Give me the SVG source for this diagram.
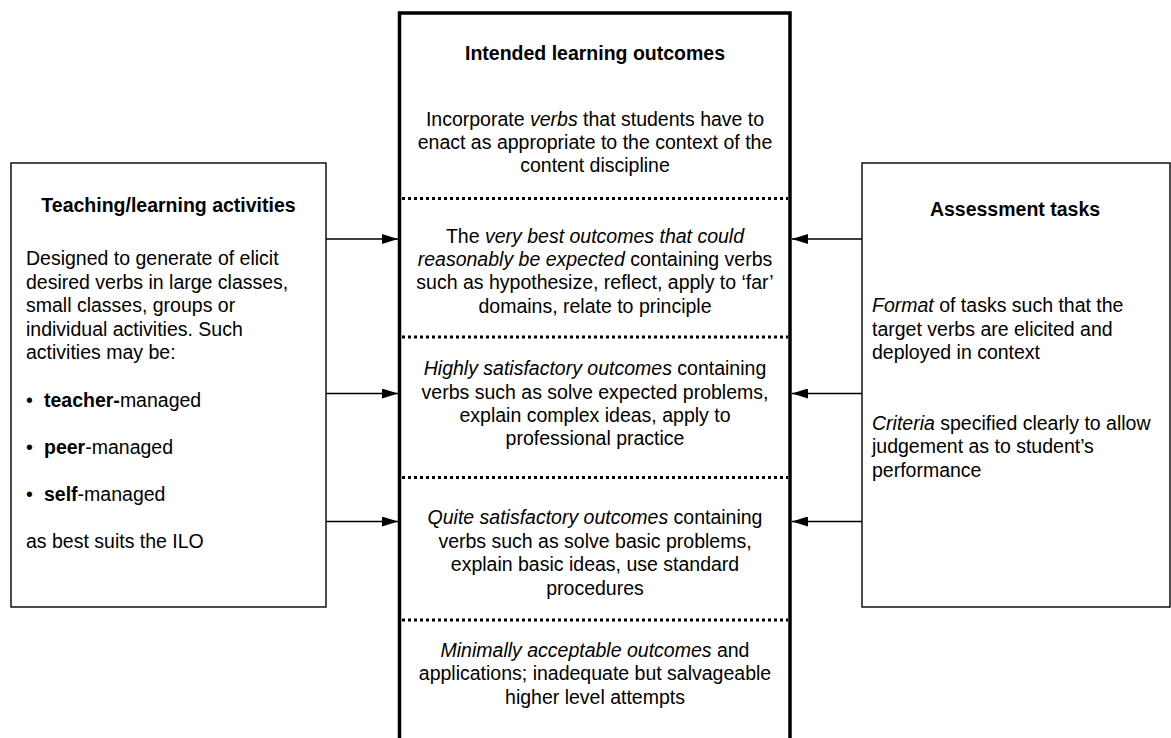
<svg xmlns="http://www.w3.org/2000/svg" width="1171" height="738" viewBox="0 0 1171 738">
<style>
text{font-family:"Liberation Sans",Arial,sans-serif;font-size:19.5px;fill:#000}
.b{font-weight:bold}
.i{font-style:italic}
.c{text-anchor:middle}
.box{fill:#fff;stroke:#000;stroke-width:1.4}
.main{fill:#fff;stroke:#000;stroke-width:3.5}
.dot{stroke:#000;stroke-width:3;stroke-dasharray:3 3;fill:none}
.con{stroke:#000;stroke-width:1.4;fill:none}
</style>
<defs>
<marker id="ah" viewBox="0 0 16 10" refX="16" refY="5" markerWidth="16" markerHeight="10" markerUnits="userSpaceOnUse" orient="auto">
<path d="M0,0 L16,5 L0,10 Z" fill="#000"/>
</marker>
</defs>
<g id="tla">
<rect class="box" x="11" y="163" width="315" height="444"/>
<text class="b c" x="168.5" y="212">Teaching/learning activities</text>
<text x="26" y="265">Designed to generate of elicit</text>
<text x="26" y="288.5">desired verbs in large classes,</text>
<text x="26" y="312">small classes, groups or</text>
<text x="26" y="335.5">individual activities. Such</text>
<text x="26" y="359">activities may be:</text>
<text x="26" y="407">•</text><text x="44" y="407"><tspan class="b">teacher-</tspan>managed</text>
<text x="26" y="454">•</text><text x="44" y="454"><tspan class="b">peer</tspan>-managed</text>
<text x="26" y="501">•</text><text x="44" y="501"><tspan class="b">self</tspan>-managed</text>
<text x="26" y="548">as best suits the ILO</text>
</g>
<g id="ilo">
<rect class="main" x="399.5" y="13" width="390.5" height="740"/>
<text class="b c" x="595" y="60">Intended learning outcomes</text>
<text class="c" x="595" y="126">Incorporate <tspan class="i">verbs</tspan> that students have to</text>
<text class="c" x="595" y="149">enact as appropriate to the context of the</text>
<text class="c" x="595" y="172">content discipline</text>
<line class="dot" x1="402" y1="198.5" x2="788" y2="198.5"/>
<text class="c" x="595" y="242.5">The <tspan class="i">very best outcomes that could</tspan></text>
<text class="c" x="595" y="265.5"><tspan class="i">reasonably be expected</tspan> containing verbs</text>
<text class="c" x="595" y="289">such as hypothesize, reflect, apply to ‘far’</text>
<text class="c" x="595" y="312.5">domains, relate to principle</text>
<line class="dot" x1="402" y1="337" x2="788" y2="337"/>
<text class="c" x="595" y="375"><tspan class="i">Highly satisfactory outcomes</tspan> containing</text>
<text class="c" x="595" y="398.5">verbs such as solve expected problems,</text>
<text class="c" x="595" y="422">explain complex ideas, apply to</text>
<text class="c" x="595" y="445">professional practice</text>
<line class="dot" x1="402" y1="477.5" x2="788" y2="477.5"/>
<text class="c" x="595" y="524"><tspan class="i">Quite satisfactory outcomes</tspan> containing</text>
<text class="c" x="595" y="547.5">verbs such as solve basic problems,</text>
<text class="c" x="595" y="571">explain basic ideas, use standard</text>
<text class="c" x="595" y="594.5">procedures</text>
<line class="dot" x1="402" y1="620" x2="788" y2="620"/>
<text class="c" x="595" y="657"><tspan class="i">Minimally acceptable outcomes</tspan> and</text>
<text class="c" x="595" y="680">applications; inadequate but salvageable</text>
<text class="c" x="595" y="703.5">higher level attempts</text>
</g>
<g id="at">
<rect class="box" x="862" y="163" width="308" height="444"/>
<text class="b c" x="1015" y="216">Assessment tasks</text>
<text x="872" y="312"><tspan class="i">Format</tspan> of tasks such that the</text>
<text x="872" y="335.5">target verbs are elicited and</text>
<text x="872" y="359">deployed in context</text>
<text x="872" y="429.5"><tspan class="i">Criteria</tspan> specified clearly to allow</text>
<text x="872" y="453">judgement as to student’s</text>
<text x="872" y="476.5">performance</text>
</g>
<g id="connectors">
<line class="con" x1="326" y1="239" x2="398" y2="239" marker-end="url(#ah)"/>
<line class="con" x1="326" y1="393.5" x2="398" y2="393.5" marker-end="url(#ah)"/>
<line class="con" x1="326" y1="521.5" x2="398" y2="521.5" marker-end="url(#ah)"/>
<line class="con" x1="862" y1="239" x2="792" y2="239" marker-end="url(#ah)"/>
<line class="con" x1="862" y1="393.5" x2="792" y2="393.5" marker-end="url(#ah)"/>
<line class="con" x1="862" y1="521.5" x2="792" y2="521.5" marker-end="url(#ah)"/>
</g>
</svg>
